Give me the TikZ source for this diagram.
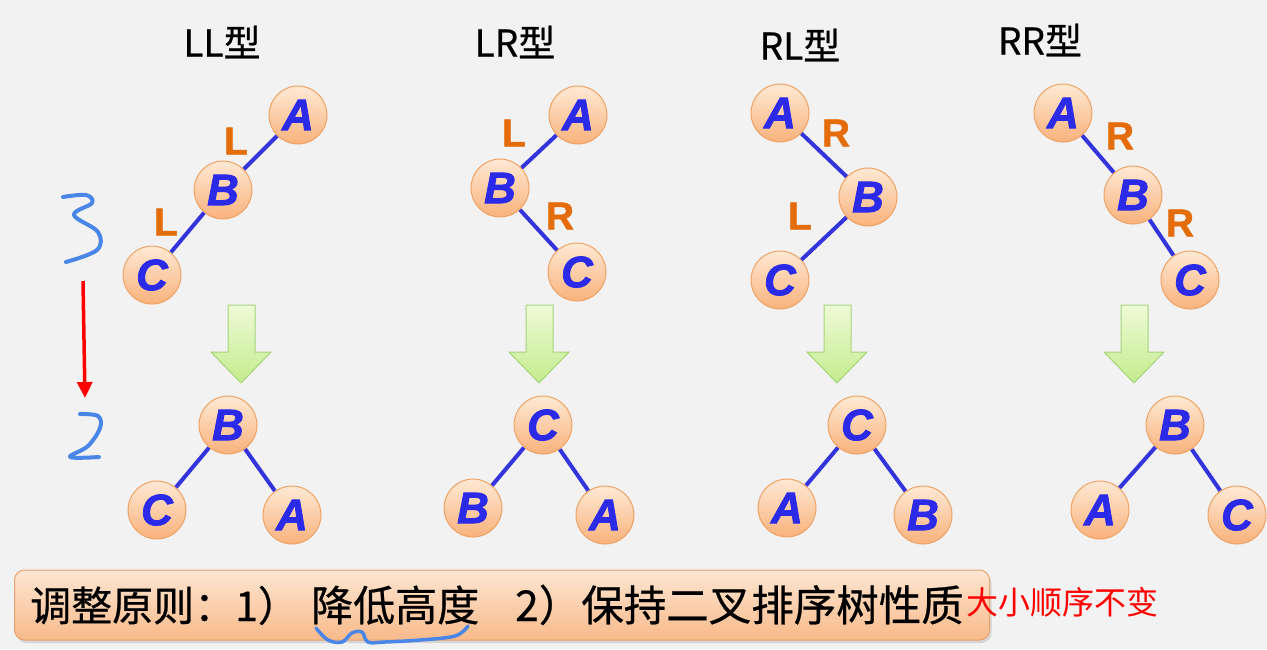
\documentclass[tikz,border=0pt]{standalone}
\usepackage{fontspec}
\setmainfont{Liberation Sans}
\newfontfamily\cjk{Noto Sans CJK SC}
\newfontfamily\cjkm{Noto Sans CJK SC}[FakeBold=0.6]
\newfontfamily\letterfont{Liberation Sans}[BoldItalicFeatures={FakeBold=1.8}, BoldFeatures={FakeBold=1.2}]
\usetikzlibrary{shadows,arrows.meta}
\definecolor{bgc}{HTML}{F2F2F2}
\definecolor{nodetop}{HTML}{FFE9D4}
\definecolor{nodebot}{HTML}{F8B27C}
\definecolor{nodeborder}{HTML}{EFA265}
\definecolor{letterblue}{HTML}{2A2AE8}
\definecolor{edgeblue}{HTML}{3434DC}
\definecolor{laborange}{HTML}{E46C0A}
\definecolor{arrtop}{HTML}{EEFAD6}
\definecolor{arrbot}{HTML}{C4EC8E}
\definecolor{arrborder}{HTML}{A6D47A}
\definecolor{boxtop}{HTML}{FDE6D2}
\definecolor{boxbot}{HTML}{F8BA8A}
\definecolor{boxborder}{HTML}{E9A372}
\definecolor{handblue}{HTML}{4A86E8}
\pgfdeclarelayer{back}
\pgfdeclarelayer{edges}
\pgfsetlayers{back,edges,main}
\tikzset{
  tnode/.style={circle, minimum size=58pt, inner sep=0pt, draw=nodeborder, line width=1pt,
    top color=nodetop, bottom color=nodebot, text=letterblue,
    font=\letterfont\fontsize{44}{44}\selectfont\bfseries\itshape},
  tedge/.style={draw=edgeblue, line width=4pt},
  lab/.style={text=laborange, font=\letterfont\fontsize{39}{39}\selectfont\bfseries},
  ttl/.style={text=black, font=\cjkm\fontsize{37}{37}\selectfont},
  garrow/.style={draw=arrborder, line width=1pt, top color=arrtop, bottom color=arrbot},
  hand/.style={draw=handblue, line width=4pt, line cap=round, line join=round},
  rtext/.style={anchor=base west, inner sep=0pt},
}
\newcommand{\greenarrow}[1]{%
  \path[garrow] (#1-13,305) -- (#1+14,305) -- (#1+14,352) -- (#1+30,352) -- (#1,383)
    -- (#1-30,352) -- (#1-13,352) -- cycle;}
\begin{document}
\begin{tikzpicture}[x=1pt,y=-1pt]
\useasboundingbox (0,0) rectangle (1267,649);
\begin{pgfonlayer}{back}
\fill[bgc] (0,0) rectangle (1267,649);
\end{pgfonlayer}

% titles
\node[ttl] (t1) at (222,42) {LL型};
\node[ttl] (t2) at (515,42) {LR型};
\node[ttl] (t3) at (800,45) {RL型};
\node[ttl] (t4) at (1040,40) {RR型};

% LL
\node[tnode] (llA) at (298,115) {A};
\node[tnode] (llB) at (223,190) {B};
\node[tnode] (llC) at (152,275) {C};
\node[lab] at (236,141) {L};
\node[lab] at (166,222) {L};
\node[tnode] (llB2) at (228,425) {B};
\node[tnode] (llC2) at (157,510) {C};
\node[tnode] (llA2) at (292,515) {A};

% LR
\node[tnode] (lrA) at (578,115) {A};
\node[tnode] (lrB) at (500,188) {B};
\node[tnode] (lrC) at (577,272) {C};
\node[lab] at (514,133) {L};
\node[lab] at (560,216) {R};
\node[tnode] (lrC2) at (543,425) {C};
\node[tnode] (lrB2) at (473,508) {B};
\node[tnode] (lrA2) at (605,515) {A};

% RL
\node[tnode] (rlA) at (780,113) {A};
\node[tnode] (rlB) at (868,197) {B};
\node[tnode] (rlC) at (780,280) {C};
\node[lab] at (836,133) {R};
\node[lab] at (800,216) {L};
\node[tnode] (rlC2) at (857,425) {C};
\node[tnode] (rlA2) at (787,508) {A};
\node[tnode] (rlB2) at (923,515) {B};

% RR
\node[tnode] (rrA) at (1063,113) {A};
\node[tnode] (rrB) at (1133,195) {B};
\node[tnode] (rrC) at (1190,280) {C};
\node[lab] at (1120,136) {R};
\node[lab] at (1180,223) {R};
\node[tnode] (rrB2) at (1175,425) {B};
\node[tnode] (rrA2) at (1100,510) {A};
\node[tnode] (rrC2) at (1237,515) {C};

\begin{pgfonlayer}{edges}
\draw[tedge] (llA) -- (llB) -- (llC);
\draw[tedge] (llC2) -- (llB2) -- (llA2);
\draw[tedge] (lrA) -- (lrB) -- (lrC);
\draw[tedge] (lrB2) -- (lrC2) -- (lrA2);
\draw[tedge] (rlA) -- (rlB) -- (rlC);
\draw[tedge] (rlA2) -- (rlC2) -- (rlB2);
\draw[tedge] (rrA) -- (rrB) -- (rrC);
\draw[tedge] (rrA2) -- (rrB2) -- (rrC2);
\end{pgfonlayer}

% green arrows
\greenarrow{241}
\greenarrow{539}
\greenarrow{837}
\greenarrow{1134}

% bottom rule box
\node[draw=boxborder, line width=1pt, rounded corners=10pt, top color=boxtop, bottom color=boxbot,
  minimum width=975pt, minimum height=70pt, inner sep=0pt,
  drop shadow={shadow xshift=2pt, shadow yshift=-3pt, opacity=0.25}] (box) at (502,605) {};
\node[rtext, font=\cjkm\fontsize{41}{41}\selectfont] (r1) at (30,621) {调整原则：1）};
\node[rtext, font=\cjkm\fontsize{42}{42}\selectfont] (r2) at (311,621) {降低高度};
\node[rtext, font=\cjkm\fontsize{42.5}{42.5}\selectfont] (r3) at (515,621) {2）保持二叉排序树性质};
\node[rtext, text=red, font=\cjk\fontsize{32}{32}\selectfont] (r4) at (966,614) {大小顺序不变};

% handwriting
\draw[hand] plot[smooth, tension=0.6] coordinates {(63,197) (86,195) (92,203) (74,215) (98,232) (97,250) (66,262)};
\draw[hand] plot[smooth, tension=0.6] coordinates {(80,414) (98,416) (100,428) (88,446) (70,457) (99,457)};
\coordinate (h3) at (83,281);
\coordinate (h2) at (85,398);
\draw[red, line width=3.5pt, -{Triangle[length=16pt,width=15pt]}] (h3) -- (h2);
\draw[hand, line width=3.5pt] plot[smooth, tension=0.6] coordinates {(316,628) (328,640) (342,642) (352,633) (362,632) (368,642) (385,642) (420,640) (455,636) (468,626)};
\end{tikzpicture}
\end{document}
